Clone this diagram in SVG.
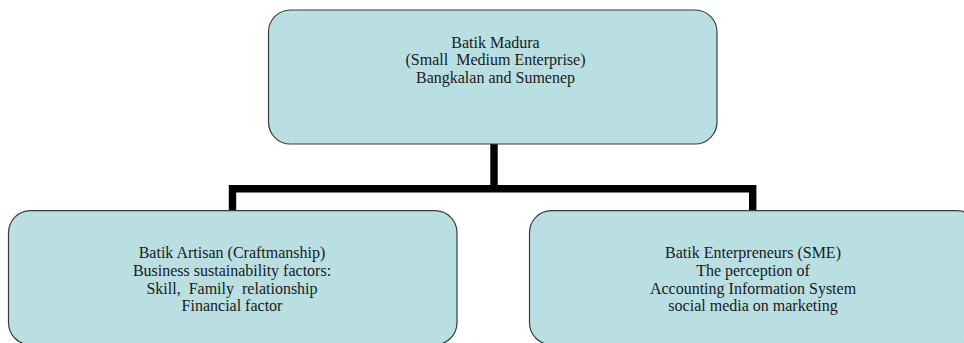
<svg xmlns="http://www.w3.org/2000/svg" width="964" height="343" viewBox="0 0 964 343">
<style>
.box{fill:#B9DFE2;stroke:#3a3a3a;stroke-width:1.2}
.lbl{font-family:"Liberation Serif","Times New Roman",serif;font-size:16px;fill:#1a1a1a;text-anchor:middle}
.conn{fill:none;stroke:#000;stroke-width:7.4;stroke-linejoin:miter;stroke-linecap:butt}
</style>
<rect width="964" height="343" fill="#fff"/>
<g id="connectors">
<path class="conn" d="M494 144 V188.7"/>
<path class="conn" d="M232.5 210.7 V188.7 H752.7 V210.7"/>
</g>
<g id="node-top">
<rect class="box" x="268.5" y="10" width="448.5" height="134" rx="22" ry="22"/>
<text class="lbl" x="495.5" y="47.5">Batik Madura</text>
<text class="lbl" x="495.5" y="65" xml:space="preserve">(Small  Medium Enterprise)</text>
<text class="lbl" x="495.5" y="82.5">Bangkalan and Sumenep</text>
</g>
<g id="node-left">
<rect class="box" x="8.5" y="210.7" width="448.5" height="134" rx="22" ry="22"/>
<text class="lbl" x="232" y="258">Batik Artisan (Craftmanship)</text>
<text class="lbl" x="232" y="276">Business sustainability factors:</text>
<text class="lbl" x="232" y="293.5" xml:space="preserve">Skill,  Family  relationship</text>
<text class="lbl" x="232" y="311">Financial factor</text>
</g>
<g id="node-right">
<rect class="box" x="529.5" y="210.7" width="449" height="134" rx="22" ry="22"/>
<text class="lbl" x="753" y="258">Batik Enterpreneurs (SME)</text>
<text class="lbl" x="753" y="276">The perception of</text>
<text class="lbl" x="753" y="293.5">Accounting Information System</text>
<text class="lbl" x="753" y="311">social media on marketing</text>
</g>
</svg>
